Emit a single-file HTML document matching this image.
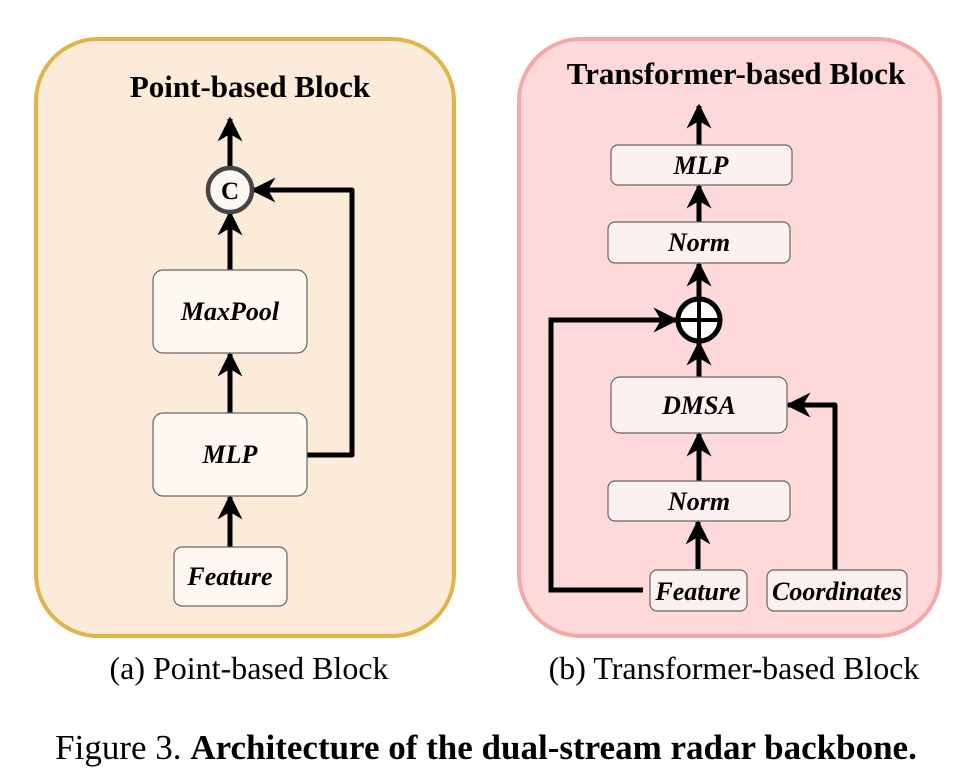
<!DOCTYPE html>
<html><head><style>body{margin:0;background:#fff}svg{display:block}</style></head><body>
<svg width="968" height="784" xmlns="http://www.w3.org/2000/svg" font-family="Liberation Serif, serif">
<defs>
<marker id="a" viewBox="0 0 10 10" refX="9" refY="5" markerWidth="5" markerHeight="5" orient="auto"><path d="M0,0 L10,5 L0,10 L3,5 z" fill="#000"/></marker>
</defs>
<rect x="36" y="39" width="418" height="597" rx="62" fill="#fdebd9" stroke="#e0b44a" stroke-width="4"/>
<text x="250" y="97" text-anchor="middle" font-size="31" font-weight="bold">Point-based Block</text>
<g stroke="#000" stroke-width="5" fill="none" marker-end="url(#a)">
<line x1="230" y1="166" x2="230" y2="119"/>
<line x1="230" y1="270" x2="230" y2="213"/>
<line x1="230" y1="413" x2="230" y2="354"/>
<line x1="230" y1="547" x2="230" y2="497"/>
<path d="M307,455 H352 V190 H253" stroke-linejoin="round"/>
</g>
<circle cx="230" cy="190" r="22" fill="#fdf8f2" stroke="#444" stroke-width="4.5"/>
<text x="230" y="199" text-anchor="middle" font-size="25" font-weight="bold">C</text>
<g fill="#fdf8f2" stroke="#666" stroke-width="1.2">
<rect x="153" y="270" width="154" height="83" rx="10"/>
<rect x="153" y="413" width="154" height="83" rx="10"/>
<rect x="174" y="547" width="113" height="59" rx="8"/>
</g>
<g font-size="26" font-weight="bold" font-style="italic" text-anchor="middle">
<text x="230" y="320">MaxPool</text>
<text x="230" y="463">MLP</text>
<text x="230" y="585">Feature</text>
</g>

<rect x="519" y="39" width="421" height="597" rx="62" fill="#fdd9d9" stroke="#f5a8a8" stroke-width="4"/>
<text x="736" y="84" text-anchor="middle" font-size="31" font-weight="bold">Transformer-based Block</text>
<g stroke="#000" stroke-width="5" fill="none" marker-end="url(#a)">
<line x1="699" y1="145" x2="699" y2="106"/>
<line x1="699" y1="222" x2="699" y2="186"/>
<line x1="699" y1="298" x2="699" y2="264"/>
<line x1="699" y1="377" x2="699" y2="343"/>
<line x1="699" y1="481" x2="699" y2="434"/>
<line x1="698" y1="569" x2="698" y2="522"/>
<path d="M643,590 H551 V320 H676"/>
<path d="M835,570 V405 H788" stroke-linejoin="round"/>
</g>
<circle cx="699" cy="320" r="21" fill="#fff" stroke="#000" stroke-width="5"/>
<line x1="678" y1="320" x2="720" y2="320" stroke="#000" stroke-width="4"/>
<line x1="699" y1="299" x2="699" y2="341" stroke="#000" stroke-width="4"/>
<g fill="#fdf0f0" stroke="#666" stroke-width="1.2">
<rect x="611" y="145" width="181" height="40" rx="7"/>
<rect x="608" y="222" width="182" height="41" rx="7"/>
<rect x="611" y="377" width="176" height="56" rx="9"/>
<rect x="608" y="481" width="182" height="40" rx="7"/>
<rect x="650" y="570" width="97" height="41" rx="7"/>
<rect x="767" y="570" width="140" height="41" rx="7"/>
</g>
<g font-size="26" font-weight="bold" font-style="italic" text-anchor="middle">
<text x="701" y="174">MLP</text>
<text x="699" y="251">Norm</text>
<text x="699" y="414">DMSA</text>
<text x="699" y="510">Norm</text>
<text x="698" y="600">Feature</text>
<text x="837" y="600">Coordinates</text>
</g>

<text x="249" y="679" text-anchor="middle" font-size="32">(a) Point-based Block</text>
<text x="734" y="679" text-anchor="middle" font-size="32">(b) Transformer-based Block</text>
<text x="486" y="759" text-anchor="middle" font-size="35">Figure 3. <tspan font-weight="bold">Architecture of the dual-stream radar backbone.</tspan></text>
</svg>
</body></html>
